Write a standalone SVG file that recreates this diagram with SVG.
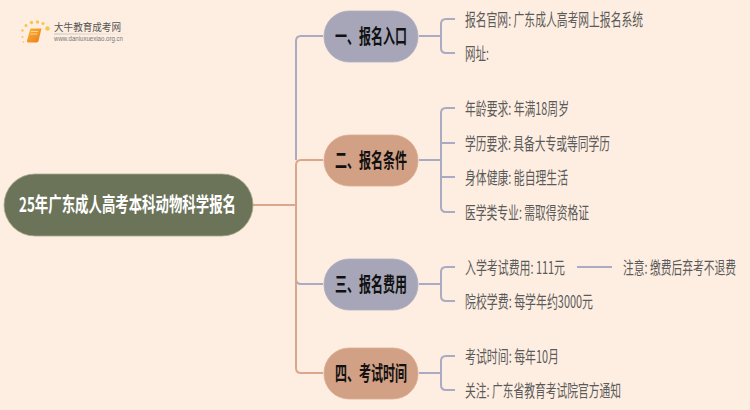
<svg xmlns="http://www.w3.org/2000/svg" width="750" height="410" viewBox="0 0 750 410">
<defs><linearGradient id="bk" x1="0" y1="0" x2="1" y2="1"><stop offset="0" stop-color="#fbb636"/><stop offset="1" stop-color="#e97a18"/></linearGradient>
<linearGradient id="rule" x1="0" y1="0" x2="1" y2="0"><stop offset="0" stop-color="#c4c0bb"/><stop offset="1" stop-color="#c4c0bb" stop-opacity="0"/></linearGradient></defs>
<style>
text{font-family:"Noto Sans CJK SC","Liberation Sans",sans-serif}
.l{font-size:17px;fill:#5a5a5a;dominant-baseline:central}
.t{font-size:20px;font-weight:700;fill:#111;text-anchor:middle;dominant-baseline:central}
.b{fill:none;stroke:#a9abc2;stroke-width:2}
.o{fill:none;stroke:#d9a88c;stroke-width:2}
.dot{fill:#f8c64a}
</style>
<rect width="750" height="410" fill="#feeee1"/>
<g id="logo">
<circle class="dot" cx="47.500" cy="28.500" r="2.200"/><circle class="dot" cx="43" cy="23.500" r="1.600"/><circle class="dot" cx="37.500" cy="22" r="1.700"/><circle class="dot" cx="31.500" cy="22.500" r="1.700"/><circle class="dot" cx="26" cy="25.500" r="1.500"/><circle class="dot" cx="22.500" cy="30.500" r="1.200"/><circle class="dot" cx="22.500" cy="37" r="1"/><circle class="dot" cx="23.500" cy="42" r="0.800"/>
<path d="M30.500 28.500H41.500L38.500 41Q38 42.500 36 42.500H28Q26.500 42.500 27 40.500Z" fill="url(#bk)"/>
<path d="M31 31.500H38M30.500 34H37.500" stroke="#ffe2a8" stroke-width="0.800" fill="none"/>
<text x="54" y="31" font-size="10.500" fill="#555" textLength="67" lengthAdjust="spacingAndGlyphs">大牛教育成考网</text>
<rect x="54" y="33.500" width="78" height="1" fill="url(#rule)"/>
<text x="54" y="41" font-size="6.500" fill="#777" textLength="69" lengthAdjust="spacingAndGlyphs" style="font-family:'Liberation Sans',sans-serif">www.daniuxuexiao.org.cn</text>
</g>
<g id="connectors">
<path class="o" d="M253 205H296"/>
<path class="b" d="M296 160V41Q296 36 301 36H323"/>
<path class="o" d="M296 205V165Q296 160 301 160H323"/>
<path class="b" d="M296 279Q296 284 301 284H323"/>
<path class="o" d="M296 205V368Q296 373 301 373H323"/>
<path class="b" d="M419 36H441"/><path class="b" d="M455 19H446Q441 19 441 24V48Q441 53 446 53H455"/>
<path class="b" d="M419 160H441"/><path class="b" d="M455 108H446Q441 108 441 113V207Q441 212 446 212H455M441 143H455M441 177H455"/>
<path class="b" d="M419 284H441"/><path class="b" d="M455 267H446Q441 267 441 272V296Q441 301 446 301H455"/>
<path class="b" d="M419 373H441"/><path class="b" d="M455 356H446Q441 356 441 361V385Q441 390 446 390H455"/>
<path class="b" d="M577 267H612"/>
</g>
<g id="root"><rect x="4" y="174" width="249" height="62" rx="31" fill="#6b7359" stroke="#a8a888" stroke-width="0.800"/>
<text x="127.500" y="203" font-size="20" font-weight="700" fill="#fff" text-anchor="middle" dominant-baseline="central" textLength="217" lengthAdjust="spacingAndGlyphs">25年广东成人高考本科动物科学报名</text></g>
<g id="n1"><rect x="324" y="11" width="94" height="51" rx="25" fill="#a6a6b8" stroke="#aeaec2" stroke-width="0.800"/><text class="t" x="371" y="35" textLength="72" lengthAdjust="spacingAndGlyphs">一、报名入口</text></g>
<g id="n2"><rect x="324" y="135" width="94" height="51" rx="25" fill="#d2a084" stroke="#dcac90" stroke-width="0.800"/><text class="t" x="371" y="159" textLength="72" lengthAdjust="spacingAndGlyphs">二、报名条件</text></g>
<g id="n3"><rect x="324" y="259" width="94" height="51" rx="25" fill="#a6a6b8" stroke="#aeaec2" stroke-width="0.800"/><text class="t" x="371" y="283" textLength="72" lengthAdjust="spacingAndGlyphs">三、报名费用</text></g>
<g id="n4"><rect x="324" y="348" width="94" height="51" rx="25" fill="#d2a084" stroke="#dcac90" stroke-width="0.800"/><text class="t" x="371" y="372" textLength="72" lengthAdjust="spacingAndGlyphs">四、考试时间</text></g>
<g id="leaf1"><text class="l" x="465" y="18" textLength="178" lengthAdjust="spacingAndGlyphs">报名官网: 广东成人高考网上报名系统</text></g>
<g id="leaf2"><text class="l" x="465" y="52" textLength="24" lengthAdjust="spacingAndGlyphs">网址:</text></g>
<g id="leaf3"><text class="l" x="465" y="107" textLength="104" lengthAdjust="spacingAndGlyphs">年龄要求: 年满18周岁</text></g>
<g id="leaf4"><text class="l" x="465" y="142" textLength="145" lengthAdjust="spacingAndGlyphs">学历要求: 具备大专或等同学历</text></g>
<g id="leaf5"><text class="l" x="465" y="176" textLength="103" lengthAdjust="spacingAndGlyphs">身体健康: 能自理生活</text></g>
<g id="leaf6"><text class="l" x="465" y="211" textLength="124" lengthAdjust="spacingAndGlyphs">医学类专业: 需取得资格证</text></g>
<g id="leaf7"><text class="l" x="465" y="266" textLength="100" lengthAdjust="spacingAndGlyphs">入学考试费用: 111元</text></g>
<g id="leaf8"><text class="l" transform="translate(623 266) scale(.635 1)" x="0" y="0" textLength="178" lengthAdjust="spacingAndGlyphs">注意: 缴费后弃考不退费</text></g>
<g id="leaf9"><text class="l" x="465" y="300" textLength="128" lengthAdjust="spacingAndGlyphs">院校学费: 每学年约3000元</text></g>
<g id="leaf10"><text class="l" x="465" y="355" textLength="94" lengthAdjust="spacingAndGlyphs">考试时间: 每年10月</text></g>
<g id="leaf11"><text class="l" x="465" y="389" textLength="156" lengthAdjust="spacingAndGlyphs">关注: 广东省教育考试院官方通知</text></g>
</svg>
